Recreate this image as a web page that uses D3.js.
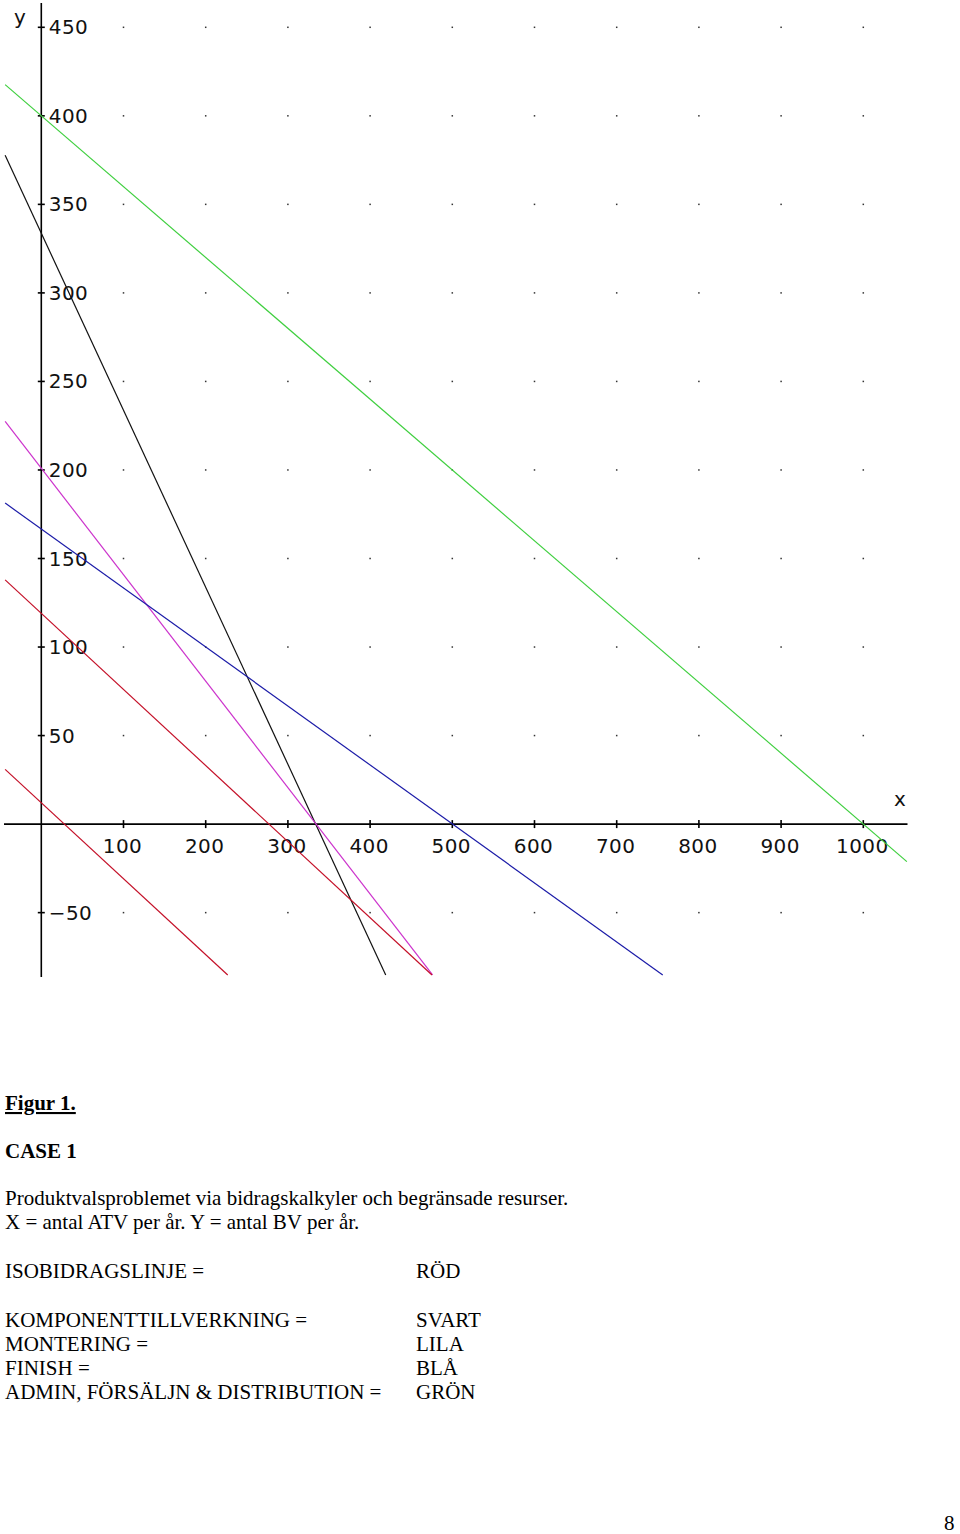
<!DOCTYPE html>
<html>
<head>
<meta charset="utf-8">
<script src="https://cdn.jsdelivr.net/npm/d3@7"></script>
<style>
  html, body { margin: 0; padding: 0; background: #fff; }
  svg { display: block; }
</style>
</head>
<body>
<script>
// ---------- data ----------
const xTicks = [100, 200, 300, 400, 500, 600, 700, 800, 900, 1000];
const yTicks = [-50, 50, 100, 150, 200, 250, 300, 350, 400, 450];
const gridX = [100, 200, 300, 400, 500, 600, 700, 800, 900, 1000];
const gridY = [-50, 50, 100, 150, 200, 250, 300, 350, 400, 450];

// constraint / iso-profit lines: endpoints (data units)
const lineNames  = ["ADMIN", "KOMPONENT", "MONTERING", "FINISH", "ISO1", "ISO2"];
const lineColors = ["#3fcf3f", "#111111", "#cc33cc", "#1c1ca8", "#c41028", "#c41028"];
const lineX0 = [-44, -44, -44, -44, -44, -44];
const lineY0 = [417.6, 377.7, 227.4, 181.3, 137.9, 30.9];
const lineX1 = [1053, 419, 476, 756, 475.3, 226.8];
const lineY1 = [-21.2, -85.2, -85.2, -85.2, -85.2, -85.2];

const captionLines = [
  "Produktvalsproblemet via bidragskalkyler och begränsade resurser.",
  "X = antal ATV per år. Y = antal BV per år."
];
const legendLabels = ["ISOBIDRAGSLINJE =", "KOMPONENTTILLVERKNING =", "MONTERING =", "FINISH =", "ADMIN, FÖRSÄLJN & DISTRIBUTION ="];
const legendColors = ["RÖD", "SVART", "LILA", "BLÅ", "GRÖN"];

// ---------- drawing ----------
const W = 960, H = 1534;
const svg = d3.select("body").append("svg").attr("width", W).attr("height", H);
svg.append("rect").attr("width", W).attr("height", H).attr("fill", "#fff");

const x = d3.scaleLinear().domain([0, 1000]).range([41.3, 863.3]);
const y = d3.scaleLinear().domain([0, 450]).range([824.1, 27.3]);

// grid dots
const dots = [];
gridX.forEach(gx => gridY.forEach(gy => dots.push([gx, gy])));
svg.append("g").selectAll("rect").data(dots).join("rect")
  .attr("x", d => x(d[0]) - 0.75).attr("y", d => y(d[1]) - 0.75)
  .attr("width", 1.5).attr("height", 1.5).attr("fill", "#333");

// axes lines
const axisG = svg.append("g").attr("stroke", "#000").attr("stroke-width", 1.6);
axisG.append("line").attr("x1", x(0)).attr("x2", x(0)).attr("y1", 3).attr("y2", 977);
axisG.append("line").attr("x1", 4).attr("x2", 907.5).attr("y1", y(0)).attr("y2", y(0));

// x ticks
axisG.selectAll(".xt").data(xTicks).join("line").attr("class", "xt")
  .attr("x1", d => x(d)).attr("x2", d => x(d))
  .attr("y1", y(0) - 4).attr("y2", y(0) + 4);
// y ticks
axisG.selectAll(".yt").data(yTicks).join("line").attr("class", "yt")
  .attr("x1", x(0) - 3.5).attr("x2", x(0) + 3.5)
  .attr("y1", d => y(d)).attr("y2", d => y(d));

const labFont = "'DejaVu Sans', sans-serif";
svg.append("g").selectAll("text").data(xTicks).join("text")
  .attr("x", d => x(d) - 1).attr("y", y(0) + 29)
  .attr("text-anchor", "middle").attr("font-family", labFont).attr("font-size", 20)
  .attr("letter-spacing", 0.4)
  .attr("fill", "#111").text(d => d);
svg.append("g").selectAll("text").data(yTicks).join("text")
  .attr("x", x(0) + 7.5).attr("y", d => y(d) + 7)
  .attr("font-family", labFont).attr("font-size", 20).attr("letter-spacing", 0.4)
  .attr("fill", "#111").text(d => d < 0 ? "\u2212" + Math.abs(d) : d);

svg.append("text").attr("x", 894).attr("y", 806).attr("font-family", labFont)
  .attr("font-size", 20).attr("fill", "#111").text("x");
svg.append("text").attr("x", 14).attr("y", 24).attr("font-family", labFont)
  .attr("font-size", 20).attr("fill", "#111").text("y");

// lines
const lineData = lineNames.map((n, i) => ({
  name: n, color: lineColors[i],
  pts: [[lineX0[i], lineY0[i]], [lineX1[i], lineY1[i]]]
}));
const lineGen = d3.line().x(d => x(d[0])).y(d => y(d[1]));
svg.append("g").selectAll("path").data(lineData).join("path")
  .attr("d", d => lineGen(d.pts))
  .attr("fill", "none").attr("stroke", d => d.color).attr("stroke-width", 1.2);

// ---------- text below ----------
const serif = "'Liberation Serif', 'Times New Roman', serif";
const fs = 21;
svg.append("text").attr("x", 5).attr("y", 1110).attr("font-family", serif)
  .attr("font-size", fs).attr("font-weight", "bold")
  .attr("text-decoration", "underline").attr("fill", "#000").text("Figur 1.");
svg.append("text").attr("x", 5).attr("y", 1158).attr("font-family", serif)
  .attr("font-size", fs).attr("font-weight", "bold").attr("fill", "#000").text("CASE 1");
svg.append("g").selectAll("text").data(captionLines).join("text")
  .attr("x", 5).attr("y", (d, i) => 1205 + i * 24)
  .attr("font-family", serif).attr("font-size", fs).attr("fill", "#000").text(d => d);

const legY = [1278, 1327, 1351, 1375, 1399];
const legG = svg.append("g").attr("font-family", serif).attr("font-size", fs).attr("fill", "#000");
legG.selectAll(".ll").data(legendLabels).join("text").attr("class", "ll")
  .attr("x", 5).attr("y", (d, i) => legY[i]).text(d => d);
legG.selectAll(".lc").data(legendColors).join("text").attr("class", "lc")
  .attr("x", 416).attr("y", (d, i) => legY[i]).text(d => d);

svg.append("text").attr("x", 944).attr("y", 1530).attr("font-family", serif)
  .attr("font-size", fs).attr("fill", "#000").text("8");
</script>
</body>
</html>
